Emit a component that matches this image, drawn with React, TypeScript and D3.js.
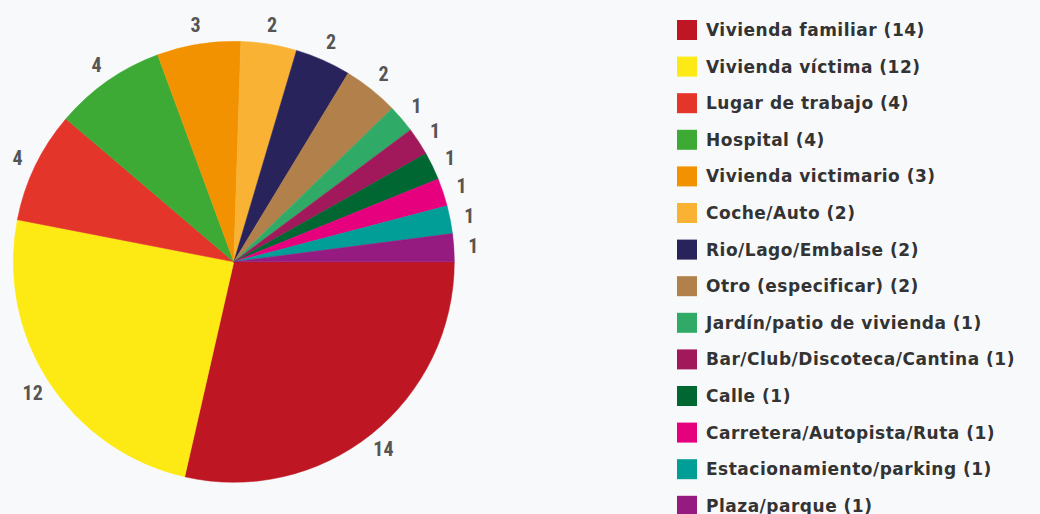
import React from "react";
import * as d3 from "d3";

const categories = [
  "Vivienda familiar",
  "Vivienda víctima",
  "Lugar de trabajo",
  "Hospital",
  "Vivienda victimario",
  "Coche/Auto",
  "Rio/Lago/Embalse",
  "Otro (especificar)",
  "Jardín/patio de vivienda",
  "Bar/Club/Discoteca/Cantina",
  "Calle",
  "Carretera/Autopista/Ruta",
  "Estacionamiento/parking",
  "Plaza/parque",
];
const values = [14, 12, 4, 4, 3, 2, 2, 2, 1, 1, 1, 1, 1, 1];
const colors = [
  "#be1622", "#fdea14", "#e4352b", "#3daa35", "#f39200", "#f9b233", "#29235c",
  "#b1804b", "#30ab67", "#a2195b", "#006632", "#e6007e", "#009e97", "#951b81",
];

const W = 1040;
const H = 514;
const cx = 233.8;
const cy = 261.8;
const R = 220.5;
const labelR = 240;

export default function App() {
  const data = categories.map((c, i) => ({ name: c, value: values[i], color: colors[i] }));
  const pie = d3
    .pie<any>()
    .value((d) => d.value)
    .sort(null)
    .startAngle(Math.PI / 2)
    .endAngle(Math.PI / 2 + 2 * Math.PI);
  const arcs = pie(data);
  const arc = d3.arc<any>().innerRadius(0).outerRadius(R);
  const labelArc = d3.arc<any>().innerRadius(labelR).outerRadius(labelR);

  const legendY = d3.scaleLinear().domain([0, 1]).range([30, 66.6]);

  return (
    <svg
      width={W}
      height={H}
      style={{ position: "absolute", left: 0, top: 0, display: "block" }}
    >
      <rect x={0} y={0} width={W} height={H} fill="#f8f9fb" />
      <g transform={`translate(${cx},${cy})`}>
        {arcs.map((a, i) => (
          <path key={i} d={arc(a) as string} fill={a.data.color} stroke={a.data.color} strokeWidth={0.5} />
        ))}
        {arcs.map((a, i) => {
          const [x, y] = labelArc.centroid(a);
          return (
            <text
              key={"l" + i}
              x={x}
              y={y}
              textAnchor="middle"
              dominantBaseline="central"
              fill="#555555"
              fontFamily="'Liberation Sans Narrow', 'Arial Narrow', 'Roboto Condensed', sans-serif"
              fontWeight="bold"
              fontSize={20}
            >
              {a.data.value}
            </text>
          );
        })}
      </g>
      <g>
        {data.map((d, i) => (
          <g key={"lg" + i} transform={`translate(677,${legendY(i)})`}>
            <rect x={0} y={-10} width={20} height={20} fill={d.color} />
            <text
              x={29}
              y={0}
              dominantBaseline="central"
              fill="#333333"
              fontFamily="'DejaVu Sans', Verdana, sans-serif"
              fontWeight="bold"
              fontSize={17}
              letterSpacing={0.5}
            >
              {`${d.name} (${d.value})`}
            </text>
          </g>
        ))}
      </g>
    </svg>
  );
}
